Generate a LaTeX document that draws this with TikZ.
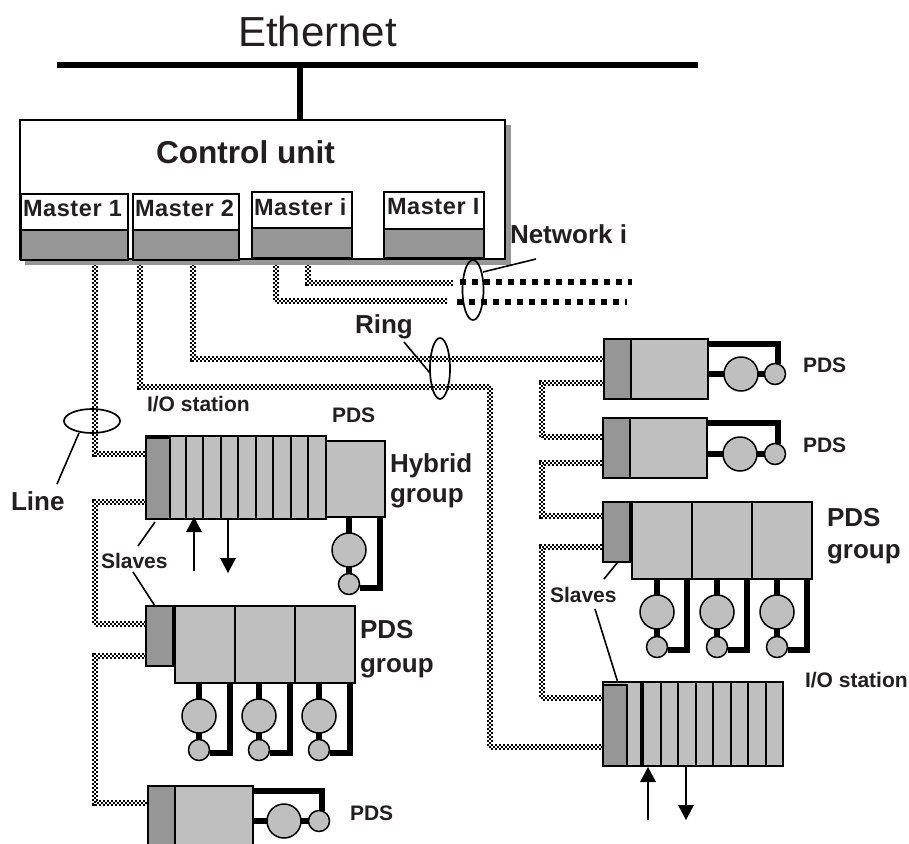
\documentclass[tikz,border=0pt]{standalone}
\usepackage{fontspec}
\setmainfont{Liberation Sans}
\newfontfamily\spacedbold[LetterSpace=2.5,BoldFont={Liberation Sans Bold}]{Liberation Sans}
\definecolor{lightfill}{HTML}{BFBFBF}
\definecolor{darkfill}{HTML}{969696}
\definecolor{ink}{HTML}{231F20}
\tikzset{
  cable/.style={line width=6pt,black,dash pattern=on 2pt off 2pt,
    postaction={draw,white,line width=2pt,dash pattern=on 2pt off 2pt},
    postaction={draw,black,line width=2pt,dash pattern=on 2pt off 2pt,dash phase=2pt}},
  boxbase/.style={rectangle,inner sep=0pt,outer sep=0pt,draw=black},
  lightbox/.style={boxbase,fill=lightfill,line width=1.6pt},
  darkbox/.style={boxbase,fill=darkfill,line width=1.6pt},
  whitebox/.style={boxbase,fill=white,line width=2.2pt},
  stationdark/.style={boxbase,fill=darkfill,line width=2.6pt},
  stationlight/.style={boxbase,fill=lightfill,line width=2.2pt},
  bigwheel/.style={circle,draw=black,fill=lightfill,line width=1.5pt,inner sep=0pt,outer sep=0pt,minimum size=34pt},
  smallwheel/.style={circle,draw=black,fill=lightfill,line width=1.5pt,inner sep=0pt,outer sep=0pt,minimum size=21pt},
  linkthick/.style={line width=5.5pt,black},
  loopring/.style={draw=black,line width=1.7pt},
  leader/.style={line width=1.6pt,black},
  sig/.style={line width=1.8pt,black},
  tip/.style={draw=none,fill=black},
  txt/.style={inner sep=0pt,outer sep=0pt,anchor=base west,text=ink},
  labA/.style={txt,font=\bfseries\fontsize{26}{26}\selectfont},
  labB/.style={txt,font=\bfseries\fontsize{21}{21}\selectfont},
  labM/.style={txt,font=\spacedbold\bfseries\fontsize{23.5}{24}\selectfont},
}
% style, name, x1, y1, x2, y2
\newcommand\bx[6]{\node[#1,minimum width={(#5-#3)*1pt},minimum height={(#6-#4)*1pt}] (#2) at ({(#3+#5)/2},{(#4+#6)/2}) {};}
% horizontal motor: prefix, body node, big x, small x, wheel y, top y
\newcommand\motorH[6]{%
  \node[bigwheel] (#1wb) at (#3,#5) {};
  \node[smallwheel] (#1ws) at (#4,#5) {};
  \coordinate (#1wt) at (#4+3,#6);
  \draw[linkthick] (#2.east |- #1wb) -- (#1wb.west);
  \draw[linkthick] (#1wb.east) -- (#1ws.west);
  \draw[linkthick] (#2.east |- #1wt) -- (#1wt) -- (#1wt |- #1ws.north);
}
% vertical motor: prefix, body node, wheel x, big y, small y, right x, bottom y
\newcommand\motorV[7]{%
  \node[bigwheel] (#1wb) at (#3,#4) {};
  \node[smallwheel] (#1ws) at (#3,#5) {};
  \coordinate (#1wt) at (#6,#7);
  \draw[linkthick] (#2.south -| #1wb) -- (#1wb.north);
  \draw[linkthick] (#1wb.south) -- (#1ws.north);
  \draw[linkthick] (#2.south -| #1wt) -- (#1wt) -- (#1wt -| #1ws.east);
}
\begin{document}
\begin{tikzpicture}[x=1pt,y=-1pt]
\path[use as bounding box,clip] (0,0) rectangle (909,843);
\fill[white] (0,0) rectangle (909,843);

% ports
\coordinate (mA) at (95,262);
\coordinate (mB) at (140,262);
\coordinate (mC) at (193,262);
\coordinate (mD) at (276,262);
\coordinate (mE) at (308,262);
\coordinate (hyIn) at (148,454);
\coordinate (hyOut) at (148,502);
\coordinate (grIn) at (148,624);
\coordinate (grOut) at (148,656);
\coordinate (boIn) at (150,803);
\coordinate (rA) at (606,359);
\coordinate (rB) at (606,383);
\coordinate (rC) at (606,437);
\coordinate (rD) at (606,463);
\coordinate (rE) at (606,516);
\coordinate (rF) at (606,547);
\coordinate (rG) at (606,698);
\coordinate (rH) at (606,747);
\coordinate (ringCorner) at (490,387);
\coordinate (leftRail) at (95,600);
\coordinate (rightRail) at (542,500);
\coordinate (netA) at (453,283);
\coordinate (netB) at (447,301);
\coordinate (dotA0) at (460,282);
\coordinate (dotA1) at (632,282);
\coordinate (dotB0) at (457,302);
\coordinate (dotB1) at (627,302);

% cables
\draw[cable] (mA) -- (mA |- hyIn) -- (hyIn);
\draw[cable] (mB) -- (mB |- ringCorner) -- (ringCorner) -- (ringCorner |- rH) -- (rH);
\draw[cable] (mC) -- (mC |- rA) -- (rA);
\draw[cable] (mD) -- (mD |- netB) -- (netB);
\draw[cable] (mE) -- (mE |- netA) -- (netA);
\draw[cable] (hyOut) -- (leftRail |- hyOut) -- (leftRail |- grIn) -- (grIn);
\draw[cable] (grOut) -- (leftRail |- grOut) -- (leftRail |- boIn) -- (boIn);
\draw[cable] (rB) -- (rightRail |- rB) -- (rightRail |- rC) -- (rC);
\draw[cable] (rD) -- (rightRail |- rD) -- (rightRail |- rE) -- (rE);
\draw[cable] (rF) -- (rightRail |- rF) -- (rightRail |- rG) -- (rG);
\draw[line width=6pt,black,dash pattern=on 6pt off 6pt] (dotA0) -- (dotA1);
\draw[line width=6pt,black,dash pattern=on 6pt off 6pt] (dotB0) -- (dotB1);

% Ethernet
\coordinate (busL) at (57,65);
\coordinate (busR) at (698,65);
\coordinate (busT) at (300,65);
\node[txt,font=\fontsize{42}{42}\selectfont] (eth) at (238,46) {Ethernet};

% control unit
\fill[darkfill] (25,125) rectangle (511,265);
\bx{boxbase,fill=white,line width=1.6pt}{cu}{20}{120}{505}{259}
\draw[line width=6pt,black] (busL) -- (busR);
\draw[line width=6pt,black] (busT) -- (cu.north -| busT);
\node[txt,font=\bfseries\fontsize{31.6}{32}\selectfont] (cutxt) at (156,163) {Control unit};

\bx{whitebox}{m1t}{21}{194}{128}{230}
\bx{whitebox}{m2t}{133}{194}{239}{230}
\bx{whitebox}{m3t}{252}{192}{352}{228}
\bx{whitebox}{m4t}{384}{192}{484}{229}
\bx{boxbase,fill=darkfill,line width=2.6pt}{m1b}{21}{230}{128}{260}
\bx{boxbase,fill=darkfill,line width=2.6pt}{m2b}{133}{230}{239}{260}
\bx{boxbase,fill=darkfill,line width=2.6pt}{m3b}{252}{228}{352}{258}
\bx{boxbase,fill=darkfill,line width=2.6pt}{m4b}{384}{229}{484}{258}
\node[labM] (m1l) at (23,216) {Master 1};
\node[labM] (m2l) at (135,216) {Master 2};
\node[labM] (m3l) at (254,215) {Master i};
\node[labM] (m4l) at (387,214) {Master I};

% network i, ring, line rings
\draw[loopring] (473,290) ellipse [x radius=10.5,y radius=30];
\draw[loopring] (440,368.5) ellipse [x radius=10,y radius=30.5];
\draw[loopring] (92,421) ellipse [x radius=28,y radius=12];
\coordinate (lnA0) at (483,272); \coordinate (lnA1) at (536,259);
\coordinate (lnB0) at (404,342); \coordinate (lnB1) at (430,373);
\coordinate (lnC0) at (79,433);  \coordinate (lnC1) at (57,484);
\draw[leader] (lnA0) -- (lnA1);
\draw[leader] (lnB0) -- (lnB1);
\draw[leader] (lnC0) -- (lnC1);
\node[labA] (netl) at (510,243) {Network i};
\node[labA] (ringl) at (355,333) {Ring};
\node[labA] (linel) at (11,510) {Line};

% right PDS 1
\bx{darkbox}{a1s}{604}{339}{631}{399}
\bx{lightbox}{a1body}{631}{339}{708}{399}
\motorH{a1}{a1body}{741}{775}{374}{344}
\node[labB] (a1l) at (803,372) {PDS};
% right PDS 2
\bx{darkbox}{a2s}{603}{418}{630}{478}
\bx{lightbox}{a2body}{630}{418}{707}{478}
\motorH{a2}{a2body}{740}{775}{454}{423}
\node[labB] (a2l) at (803,452) {PDS};
% right group
\bx{darkbox}{a3s}{603}{502}{630}{562}
\bx{lightbox}{a3x}{632}{502}{692}{579}
\bx{lightbox}{a3y}{692}{502}{752}{579}
\bx{lightbox}{a3z}{752}{502}{812}{579}
\motorV{a3p}{a3x}{657}{612}{647}{687}{650}
\motorV{a3q}{a3y}{717}{612}{647}{747}{650}
\motorV{a3r}{a3z}{777}{612}{647}{807}{650}
\node[labA] (a3l) at (827,526) {PDS};
\node[labA] (a3m) at (827,558) {group};
% right I/O station
\bx{stationlight}{a4b}{603}{682}{783}{766}
\bx{stationdark}{a4s}{603}{685}{627}{766}
\foreach \px in {642,661,678,696,713,731,748,766}
  \draw[line width=2.2pt,black] (\px,682) -- (\px,766);
\draw[line width=3.4pt,black] (642,682) -- (642,766);
\node[labB] (a4l) at (805,687) {I/O station};
\coordinate (a4u) at (648,820); \coordinate (a4d) at (686,820);
\draw[sig] (a4u) -- (648,780);
\fill[tip] (648,767) -- (656,782) -- (640,782) -- cycle;
\draw[sig] (a4b.south -| a4d) -- (686,806);
\fill[tip] (686,820) -- (678,805) -- (694,805) -- cycle;
\coordinate (sl1) at (595,609); \coordinate (sl2) at (617,563); \coordinate (sl3) at (604,579); \coordinate (sl4) at (618,683);
\draw[leader] (sl1) -- (sl4);
\draw[leader] (sl2) -- (sl3);
\node[labB] (rsl) at (550,602) {Slaves};

% hybrid group
\bx{lightbox}{hyc}{326}{441}{385}{517}
\bx{stationlight}{hyb}{146}{436}{326}{519}
\bx{stationdark}{hys}{146}{438}{170}{519}
\foreach \px in {186,203,221,238,256,273,291,308}
  \draw[line width=2.4pt,black] (\px,436) -- (\px,519);
\motorV{hym}{hyc}{349}{550}{584}{380}{588}
\node[labB] (hyp) at (332,422) {PDS};
\node[labB] (hyi) at (147,411) {I/O station};
\node[labA] (hyl) at (390,472) {Hybrid};
\node[labA] (hym2) at (390,502) {group};
\coordinate (hyU) at (194,571); \coordinate (hyD) at (228,573);
\draw[sig] (hyU) -- (194,531);
\fill[tip] (194,517) -- (202,532) -- (186,532) -- cycle;
\draw[sig] (hyb.south -| hyD) -- (228,559);
\fill[tip] (228,573) -- (220,558) -- (236,558) -- cycle;
\coordinate (ls1) at (155,522); \coordinate (ls2) at (138,546);
\coordinate (ls3) at (133,572); \coordinate (ls4) at (155,606);
\draw[leader] (ls1) -- (ls2);
\draw[leader] (ls3) -- (ls4);
\node[labB] (lsl) at (101,568) {Slaves};

% left group
\bx{darkbox}{grs}{146}{606}{173}{666}
\bx{lightbox}{grx}{175}{606}{235}{683}
\bx{lightbox}{gry}{235}{606}{295}{683}
\bx{lightbox}{grz}{295}{606}{355}{683}
\motorV{grp}{grx}{199}{716}{750}{230}{753}
\motorV{grq}{gry}{259}{716}{750}{290}{753}
\motorV{grr}{grz}{319}{716}{750}{350}{753}
\node[labA] (grl) at (360,638) {PDS};
\node[labA] (grm) at (360,672) {group};

% bottom PDS
\bx{darkbox}{bos}{148}{786}{175}{850}
\bx{lightbox}{bob}{175}{786}{253}{850}
\motorH{bo}{bob}{284}{319}{821}{791}
\node[labB] (bol) at (350,820) {PDS};
\end{tikzpicture}
\end{document}
